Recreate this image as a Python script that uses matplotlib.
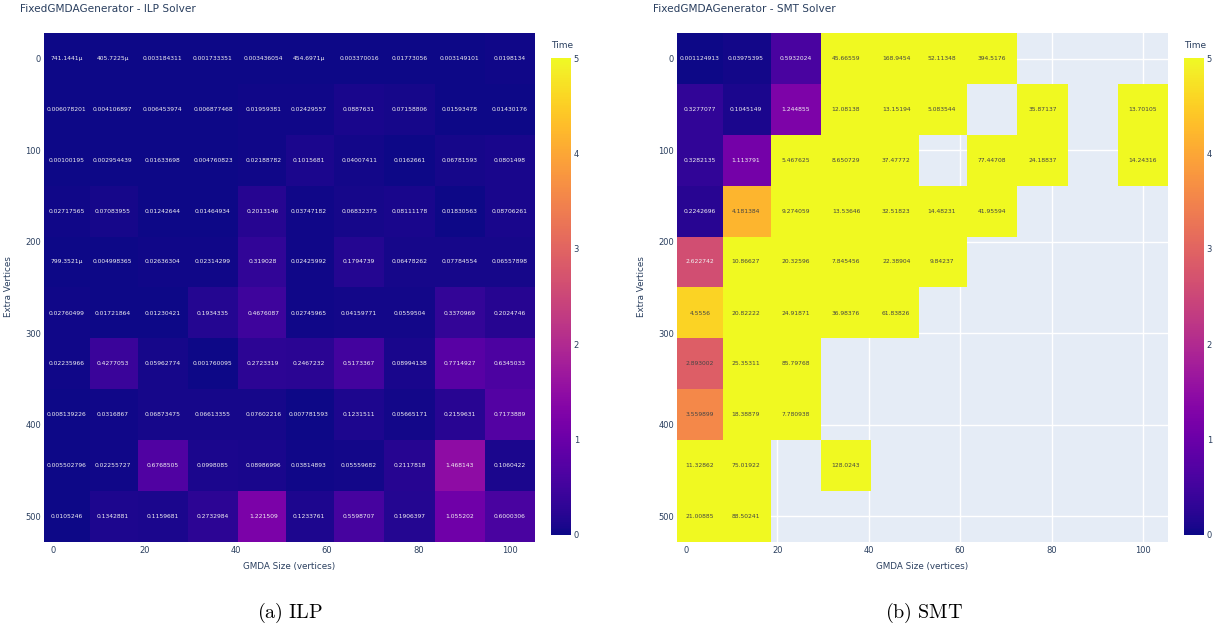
import numpy as np
import matplotlib
matplotlib.use("Agg")
import matplotlib.pyplot as plt
from matplotlib.colors import Normalize

plt.rcParams["mathtext.fontset"] = "cm"

# GMDA size (columns) and extra vertices (rows)
gmda_sizes = [3, 13, 24, 35, 46, 56, 67, 78, 89, 100]
extra_vertices = [0, 56, 111, 167, 222, 278, 333, 389, 444, 500]

x_ticks = [0, 20, 40, 60, 80, 100]
y_ticks = [0, 100, 200, 300, 400, 500]
cbar_ticks = [0, 1, 2, 3, 4, 5]

nan = np.nan

# Solve time, ILP solver
ilp_times = [
    [0.0007411441, 0.0004057225, 0.003184311, 0.001733351, 0.003436054, 0.0004546971, 0.003370016, 0.01773056, 0.003149101, 0.0198134],
    [0.006078201, 0.004106897, 0.006453974, 0.006877468, 0.01959381, 0.02429557, 0.0887631, 0.07158806, 0.01593478, 0.01430176],
    [0.00100195, 0.002954439, 0.01633698, 0.004760823, 0.02188782, 0.1015681, 0.04007411, 0.0162661, 0.06781593, 0.0801498],
    [0.02717565, 0.07083955, 0.01242644, 0.01464934, 0.2013146, 0.03747182, 0.06832375, 0.08111178, 0.01830563, 0.08706261],
    [0.0007993521, 0.004998365, 0.02636304, 0.02314299, 0.319028, 0.02425992, 0.1794739, 0.06478262, 0.07784554, 0.06557898],
    [0.02760499, 0.01721864, 0.01230421, 0.1934335, 0.4676087, 0.02745965, 0.04159771, 0.0559504, 0.3370969, 0.2024746],
    [0.02235966, 0.4277053, 0.05962774, 0.001760095, 0.2723319, 0.2467232, 0.5173367, 0.08994138, 0.7714927, 0.6345033],
    [0.008139226, 0.0316867, 0.06873475, 0.06613355, 0.07602216, 0.007781593, 0.1231511, 0.05665171, 0.2159631, 0.7173889],
    [0.005502796, 0.02255727, 0.6768505, 0.0998085, 0.08986996, 0.03814893, 0.05559682, 0.2117818, 1.468143, 0.1060422],
    [0.0105246, 0.1342881, 0.1159681, 0.2732984, 1.221509, 0.1233761, 0.5598707, 0.1906397, 1.055202, 0.6000306],
]

# Solve time, SMT solver (NaN = no result)
smt_times = [
    [0.001124913, 0.03975395, 0.5932024, 45.66559, 168.9454, 52.11348, 394.5176, nan, nan, nan],
    [0.3277077, 0.1045149, 1.244855, 12.08138, 13.15194, 5.083544, nan, 35.87137, nan, 13.70105],
    [0.3282135, 1.113791, 5.467625, 8.650729, 37.47772, nan, 77.44708, 24.18837, nan, 14.24316],
    [0.2242696, 4.181384, 9.274059, 13.53646, 32.51823, 14.48231, 41.95594, nan, nan, nan],
    [2.622742, 10.86627, 20.32596, 7.845456, 22.38904, 9.84237, nan, nan, nan, nan],
    [4.5556, 20.82222, 24.91871, 36.98376, 61.83826, nan, nan, nan, nan, nan],
    [2.893002, 25.35311, 85.79768, nan, nan, nan, nan, nan, nan, nan],
    [3.559899, 18.38879, 7.780938, nan, nan, nan, nan, nan, nan, nan],
    [11.32862, 75.01922, nan, 128.0243, nan, nan, nan, nan, nan, nan],
    [21.00885, 88.50241, nan, nan, nan, nan, nan, nan, nan, nan],
]

W, H = 1225, 632
fig = plt.figure(figsize=(W / 100, H / 100), dpi=100)
fig.patch.set_facecolor("white")

TXT = "#2a3f5f"
cmap = plt.get_cmap("plasma")
norm = Normalize(vmin=0, vmax=5)


def edges(c):
    c = np.asarray(c, float)
    mid = (c[1:] + c[:-1]) / 2
    return np.concatenate([[c[0] - (c[1] - c[0]) / 2], mid, [c[-1] + (c[-1] - c[-2]) / 2]])


def fmt(v):
    if v < 0.001:
        return f"{v * 1e6:.7g}\u00b5"
    return f"{v:.7g}"


def px_axes(left, top, right, bottom):
    return fig.add_axes([left / W, 1 - bottom / H, (right - left) / W, (bottom - top) / H])


def panel(values, title, caption, x0, title_x, cap_x):
    z = np.ma.masked_invalid(np.array(values, float))
    ax = px_axes(x0, 33, x0 + 491, 542)
    ax.set_facecolor("#E5ECF6")
    xe, ye = edges(gmda_sizes), edges(extra_vertices)
    mesh = ax.pcolormesh(xe, ye, z, cmap=cmap, norm=norm, zorder=2)
    ax.set_xlim(xe[0], xe[-1])
    ax.set_ylim(ye[-1], ye[0])
    ax.set_xticks(x_ticks)
    ax.set_yticks(y_ticks)
    ax.grid(True, color="white", linewidth=1.0, zorder=1)
    ax.set_axisbelow(True)
    for s in ax.spines.values():
        s.set_visible(False)
    ax.tick_params(length=0, labelsize=6, labelcolor=TXT)
    ax.tick_params(axis="x", pad=3)
    ax.tick_params(axis="y", pad=2)

    # axis titles placed in figure pixels
    fig.text((x0 + 245) / W, 1 - 567 / H, "GMDA Size (vertices)", fontsize=6.3,
             color=TXT, ha="center", va="center")
    fig.text((x0 - 35) / W, 1 - 287 / H, "Extra Vertices", fontsize=6.3,
             color=TXT, ha="center", va="center", rotation=90)

    for i, yv in enumerate(extra_vertices):
        for j, xv in enumerate(gmda_sizes):
            v = values[i][j]
            if np.isnan(v):
                continue
            r, g, b, _ = cmap(norm(v))
            bright = (r * 299 + g * 587 + b * 114) / 1000 * 255
            col = "#444444" if bright >= 128 else "#f2f2f2"
            ax.text(xv, yv, fmt(v), ha="center", va="center", fontsize=4.3,
                    color=col, zorder=3)

    cax = px_axes(x0 + 507, 58, x0 + 527, 535)
    cb = fig.colorbar(mesh, cax=cax, ticks=cbar_ticks)
    cb.outline.set_visible(False)
    cax.tick_params(length=0, labelsize=6, labelcolor=TXT, pad=2)
    fig.text((x0 + 507) / W, 1 - 46 / H, "Time", fontsize=6.5, color=TXT,
             ha="left", va="center")

    fig.text(title_x / W, 1 - 9 / H, title, fontsize=7.6, color=TXT,
             ha="left", va="center")
    fig.text(cap_x / W, 1 - 613 / H, caption, fontsize=14.5, color="black",
             ha="center", va="center")


panel(ilp_times, "FixedGMDAGenerator - ILP Solver", r"$\mathrm{(a)\ ILP}$", 44, 20, 290)
panel(smt_times, "FixedGMDAGenerator - SMT Solver", r"$\mathrm{(b)\ SMT}$", 677, 653, 924)

fig.savefig("out.png", dpi=100, facecolor="white")
